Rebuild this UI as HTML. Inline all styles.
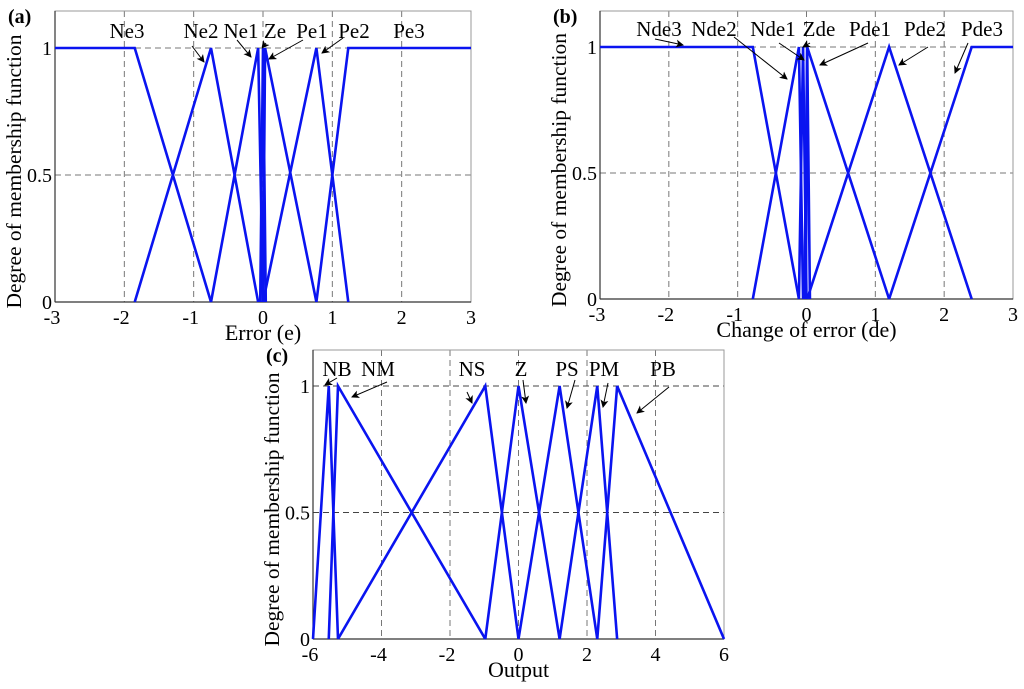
<!DOCTYPE html>
<html><head><meta charset="utf-8"><style>
body{margin:0;background:#fff}
svg{display:block;font-family:"Liberation Serif",serif}
</style></head><body>
<svg id="s" width="1024" height="689" viewBox="0 0 1024 689">
<defs><marker id="ah" markerWidth="8" markerHeight="8" refX="7" refY="4" orient="auto" markerUnits="userSpaceOnUse"><path d="M0,0 L8,4 L0,8 L2,4 Z" fill="#000"/></marker></defs>
</svg>
<script>
// Panel (a) data
const aNames=["Ne3","Ne2","Ne1","Ze","Pe1","Pe2","Pe3"];
const aPts=[[[-3,1],[-1.85,1],[-0.75,0]],[[-1.85,0],[-0.75,1],[-0.07,0]],[[-0.75,0],[-0.07,1],[0,0]],[[-0.04,0],[0,1],[0.04,0]],[[0,0],[0.03,1],[0.77,0]],[[0,0],[0.77,1],[1.23,0]],[[0.77,0],[1.23,1],[3,1]]];
const aXTicks=[-3,-2,-1,0,1,2,3];
// Panel (b) data
const bNames=["Nde3","Nde2","Nde1","Zde","Pde1","Pde2","Pde3"];
const bPts=[[[-3,1],[-0.78,1],[-0.11,0]],[[-0.78,0],[-0.11,1],[-0.05,0]],[[-0.11,0],[-0.05,1],[0,0]],[[-0.03,0],[0.01,1],[0.05,0]],[[-0.01,0],[0.01,1],[1.2,0]],[[0.01,0],[1.2,1],[2.4,0]],[[1.2,0],[2.4,1],[3,1]]];
const bXTicks=[-3,-2,-1,0,1,2,3];
// Panel (c) data
const cNames=["NB","NM","NS","Z","PS","PM","PB"];
const cPts=[[[-6,0],[-5.54,1],[-5.27,0]],[[-5.54,0],[-5.27,1],[-0.97,0]],[[-5.27,0],[-0.97,1],[0,0]],[[-0.97,0],[0,1],[1.2,0]],[[0,0],[1.2,1],[2.3,0]],[[1.2,0],[2.3,1],[2.88,0]],[[2.3,0],[2.88,1],[6,0]]];
const cXTicks=[-6,-4,-2,0,2,4,6];
const yTicks=[0,0.5,1];
const yTickLabels=["0","0.5","1"];

const svg=document.getElementById('s');
const NS='http://www.w3.org/2000/svg';
function mk(tag,at,parent){const e=document.createElementNS(NS,tag);for(const k in at)e.setAttribute(k,at[k]);(parent||svg).appendChild(e);return e;}
function txt(s,x,y,at,parent){const e=mk('text',Object.assign({x:x,y:y},at),parent);e.textContent=s;return e;}

function panel(id,box,xmin,xmax,xt,names,pts,xtitle,letter,labels,arrows,hgridCol){
  const g=mk('g',{});
  
  
  const [L,T,R,B,Y1]=box;
  const xs=v=>L+(v-xmin)/(xmax-xmin)*(R-L);
  const ys=v=>B-v*(B-Y1);
  xt.forEach(v=>{if(v>xmin&&v<xmax){const l=mk('line',{x1:xs(v),x2:xs(v),y1:T,y2:B,stroke:'#777','stroke-width':1,'stroke-dasharray':'6,4'},g);}});
  [0.5,1].forEach(v=>{const l=mk('line',{x1:L,x2:R,y1:ys(v),y2:ys(v),stroke:hgridCol,'stroke-width':1,'stroke-dasharray':'6,4'},g);});
  const r=mk('rect',{x:L,y:T,width:R-L,height:B-T,fill:'none',stroke:'#999','stroke-width':1},g);
  
  mk('line',{x1:L,x2:R,y1:B,y2:B,stroke:'#333','stroke-width':1.2},g);
  mk('line',{x1:L,x2:L,y1:T,y2:B,stroke:'#333','stroke-width':1.2},g);
  xt.forEach(v=>{const t=txt(String(v),xs(v)-(v<0?3:0),B+22,{'font-size':20,'text-anchor':'middle'},g);});
  yTicks.forEach((v,i)=>{const t=txt(yTickLabels[i],L-3,ys(v)+7,{'font-size':20,'text-anchor':'end'},g);});
  pts.forEach((p,i)=>{const pl=mk('polyline',{points:p.map(q=>xs(q[0])+','+ys(q[1])).join(' '),fill:'none',stroke:'#0a14f0','stroke-width':2.6,'stroke-linejoin':'miter'},g);});
  names.forEach((n,i)=>{const t=txt(n,labels[i][0],labels[i][1],{'font-size':21,'text-anchor':'middle'},g);});
  arrows.forEach(a=>{const l=mk('line',{x1:a[0],y1:a[1],x2:a[2],y2:a[3],stroke:'#000','stroke-width':1,'marker-end':'url(#ah)'},g);});
  const xtl=txt(xtitle,(L+R)/2,B+38,{'font-size':22,'text-anchor':'middle'},g);
  
  const yx=L-34, yc=(T+B)/2+15;
  const ytl=txt('Degree of membership function',yx,yc,{'font-size':21.5,'text-anchor':'middle',transform:'rotate(-90 '+yx+' '+yc+')'},g);
  
  const lt=txt(letter,L-47,T+12,{'font-size':20,'font-weight':'bold'},g);
  
}
panel('a',[55,11,471,302,48],-3,3,aXTicks,aNames,aPts,'Error (e)','(a)',
 [[127,38],[201,38],[241,38],[275,38],[312,38],[354,38],[409,38]],
 [[192,46,204,62],[237,40,251,57],[266,43,262,48],[303,40,269,59],[343,38,322,53]],'#777');
panel('b',[600,11,1013,299,47],-3,3,bXTicks,bNames,bPts,'Change of error (de)','(b)',
 [[659,36],[714,36],[773,36],[819,36],[870,36],[925,36],[982,36]],
 [[655,39,683,45],[734,37,787,79],[779,43,804,60],[810,43,803,47],[868,43,820,65],[928,47,899,65],[968,43,955,73]],'#777');
panel('c',[313,350,724,639,386],-6,6,cXTicks,cNames,cPts,'Output','(c)',
 [[337,376],[378,376],[472,376],[521,376],[567,376],[604,376],[663,376]],
 [[337,378,325,385],[387,382,352,397],[467,392,472,403],[523,380,526,403],[575,380,567,408],[608,383,603,407],[669,387,637,413]],'#444');
</script>
</body></html>
